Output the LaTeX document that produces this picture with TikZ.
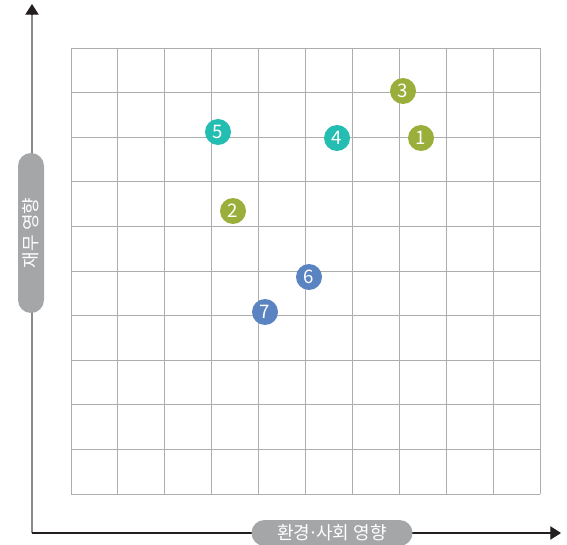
\documentclass[tikz,border=0pt]{standalone}
\usepackage{fontspec}
\setmainfont{Noto Sans CJK KR}
\usetikzlibrary{calc}
\usetikzlibrary{arrows.meta}
\usetikzlibrary{positioning}
\definecolor{GridGray}{HTML}{ADADAD}
\definecolor{PillGray}{HTML}{A5A6A8}
\definecolor{AxisGray}{HTML}{8A8A8A}
\definecolor{AxisDark}{HTML}{231F20}
\definecolor{OliveGreen}{HTML}{9AAE3B}
\definecolor{TealGreen}{HTML}{24BDB1}
\definecolor{SteelBlue}{HTML}{5A83C1}
\tikzset{
  bubble/.style={circle,inner sep=0pt,minimum size=19.5pt,text=white,
    font=\fontsize{14}{15}\selectfont},
  pill/.style={fill=PillGray,text=white,rounded corners=9.75pt,inner sep=0pt,
    minimum height=19.5pt,font=\fontsize{13.5}{15}\selectfont},
  axisarrow/.style={-{Triangle[length=8pt,width=10pt]},line width=0.8pt}
}

\begin{document}
\begin{tikzpicture}[x=0.75pt,y=-0.75pt]
  \useasboundingbox (0,0) rectangle (567,545);

  \coordinate (Corner) at (32,533);
  \coordinate (Ytop)   at (32,4);
  \coordinate (Xend)   at (561,533);

  % grid
  \foreach \i in {0,...,10}{%
    \draw[GridGray,line width=0.7pt] (71+\i*46.9,48) -- (71+\i*46.9,494);
    \draw[GridGray,line width=0.7pt] (71,48+\i*44.6) -- (540,48+\i*44.6);
  }

  % axes
  \draw[AxisGray,line width=0.9pt] (Corner) -- ($(Ytop)+(0,10)$) coordinate (Yarrow);
  \draw[axisarrow,AxisDark] (Yarrow) -- (Ytop);
  \draw[axisarrow,AxisDark] (Corner) -- (Xend);

  \node[pill,minimum width=120.75pt] (Xlabel) at (332,533)
    {환경\kern-0.12em·\kern-0.12em사회 영향};
  \node[pill,minimum width=120pt,rotate=90] (Ylabel) at (31,233) {재무 영향};

  % issues
  \foreach \n/\x/\y/\c in {1/421/138/OliveGreen, 2/233/211/OliveGreen,
      3/403/91/OliveGreen, 4/337/138/TealGreen, 5/218/132/TealGreen,
      6/309/277/SteelBlue, 7/265/312/SteelBlue}{%
    \node[bubble,fill=\c] (p\n) at (\x,\y) {\n};
  }
\end{tikzpicture}
\end{document}
